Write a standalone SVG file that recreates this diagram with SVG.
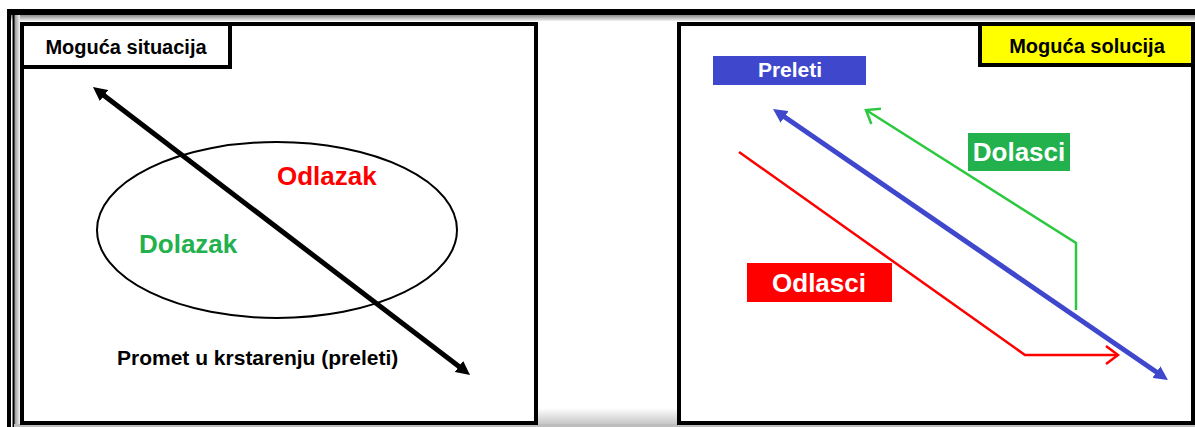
<svg xmlns="http://www.w3.org/2000/svg" width="1195" height="427" viewBox="0 0 1195 427">
<style>
.panel{fill:#fff;stroke:#000;stroke-width:4}
.lbl{font-family:"Liberation Sans",Arial,sans-serif;font-weight:bold}
.hdr{font-size:20px;fill:#000}
.big{font-size:26px}
</style>
<defs>
<linearGradient id="gTop" x1="0" y1="0" x2="0" y2="1"><stop offset="0" stop-color="#8a8a8a"/><stop offset="1" stop-color="#f2f2f2"/></linearGradient>
<linearGradient id="gLeft" x1="0" y1="0" x2="1" y2="0"><stop offset="0" stop-color="#8a8a8a"/><stop offset="1" stop-color="#f2f2f2"/></linearGradient>
<linearGradient id="gBot" x1="0" y1="0" x2="0" y2="1"><stop offset="0" stop-color="#ffffff"/><stop offset="1" stop-color="#bdbdbd"/></linearGradient>
<marker id="hBlack" markerUnits="userSpaceOnUse" markerWidth="15" markerHeight="14" refX="3" refY="7" orient="auto-start-reverse"><path d="M0,0 L14,7 L0,14 z" fill="#000"/></marker>
<marker id="hBlue" markerUnits="userSpaceOnUse" markerWidth="15" markerHeight="14" refX="3" refY="7" orient="auto-start-reverse"><path d="M0,0 L14,7 L0,14 z" fill="#3f48cc"/></marker>
<marker id="cGreen" markerUnits="userSpaceOnUse" markerWidth="18" markerHeight="22" refX="15" refY="11" orient="auto"><path d="M3,2 L15,11 L3,20" fill="none" stroke="#2cc940" stroke-width="2.5"/></marker>
<marker id="cRed" markerUnits="userSpaceOnUse" markerWidth="18" markerHeight="22" refX="15" refY="11" orient="auto"><path d="M3,2 L15,11 L3,20" fill="none" stroke="#ff0000" stroke-width="2.5"/></marker>
</defs>
<rect width="1195" height="427" fill="#fff"/>
<g id="frame">
<rect x="7" y="15" width="1188" height="6" fill="url(#gTop)"/>
<rect x="14" y="15" width="6" height="412" fill="url(#gLeft)"/>
<rect x="7" y="9" width="1188" height="6" fill="#000"/>
<rect x="7" y="9" width="4" height="418" fill="#000"/>
<rect x="12.5" y="9" width="2" height="418" fill="#000"/>
<rect x="536" y="408" width="143" height="19" fill="url(#gBot)"/>
<rect x="14" y="424" width="1181" height="3" fill="#bdbdbd"/>
</g>
<g id="panel-left">
<rect class="panel" x="22" y="24" width="514" height="399"/>
</g>
<g id="panel-right">
<rect class="panel" x="679" y="24" width="514" height="399"/>
</g>
<g id="label-situacija">
<rect x="22" y="24" width="208" height="43" fill="#fff" stroke="#000" stroke-width="4"/>
<text class="lbl hdr" x="126" y="54" text-anchor="middle">Moguća situacija</text>
</g>
<g id="label-solucija">
<rect x="980" y="24" width="213" height="41" fill="#ffff00" stroke="#000" stroke-width="4"/>
<text class="lbl hdr" x="1087" y="53" text-anchor="middle">Moguća solucija</text>
</g>
<g id="zone-ellipse">
<ellipse cx="277" cy="230" rx="180" ry="88" fill="none" stroke="#000" stroke-width="2"/>
</g>
<g id="text-odlazak"><text class="lbl big" x="277" y="185" fill="#ff0000">Odlazak</text></g>
<g id="text-dolazak"><text class="lbl big" x="139" y="253" fill="#22b14c">Dolazak</text></g>
<g id="text-promet"><text class="lbl" x="117" y="365" font-size="21" fill="#000">Promet u krstarenju (preleti)</text></g>
<g id="box-preleti">
<rect x="713" y="56" width="153" height="29" fill="#3f48cc"/>
<text class="lbl" x="790" y="77" font-size="21" fill="#fff" text-anchor="middle">Preleti</text>
</g>
<g id="box-dolasci">
<rect x="968" y="133" width="102" height="38" fill="#22b14c"/>
<text class="lbl big" x="1019" y="161" fill="#fff" text-anchor="middle">Dolasci</text>
</g>
<g id="box-odlasci">
<rect x="747" y="263" width="145" height="39" fill="#ff0000"/>
<text class="lbl big" x="819" y="292" fill="#fff" text-anchor="middle">Odlasci</text>
</g>
<g id="connectors" fill="none">
<line x1="101.7" y1="93.7" x2="461.3" y2="368.3" stroke="#000" stroke-width="5" marker-start="url(#hBlack)" marker-end="url(#hBlack)"/>
<line x1="782.1" y1="115.2" x2="1158.9" y2="373.8" stroke="#3f48cc" stroke-width="5" marker-start="url(#hBlue)" marker-end="url(#hBlue)"/>
<polyline points="1076,310 1076,243 866,110" stroke="#2cc940" stroke-width="2.5" marker-end="url(#cGreen)"/>
<polyline points="739,152 1025,355 1118,355" stroke="#ff0000" stroke-width="2.5" marker-end="url(#cRed)"/>
</g>
</svg>
